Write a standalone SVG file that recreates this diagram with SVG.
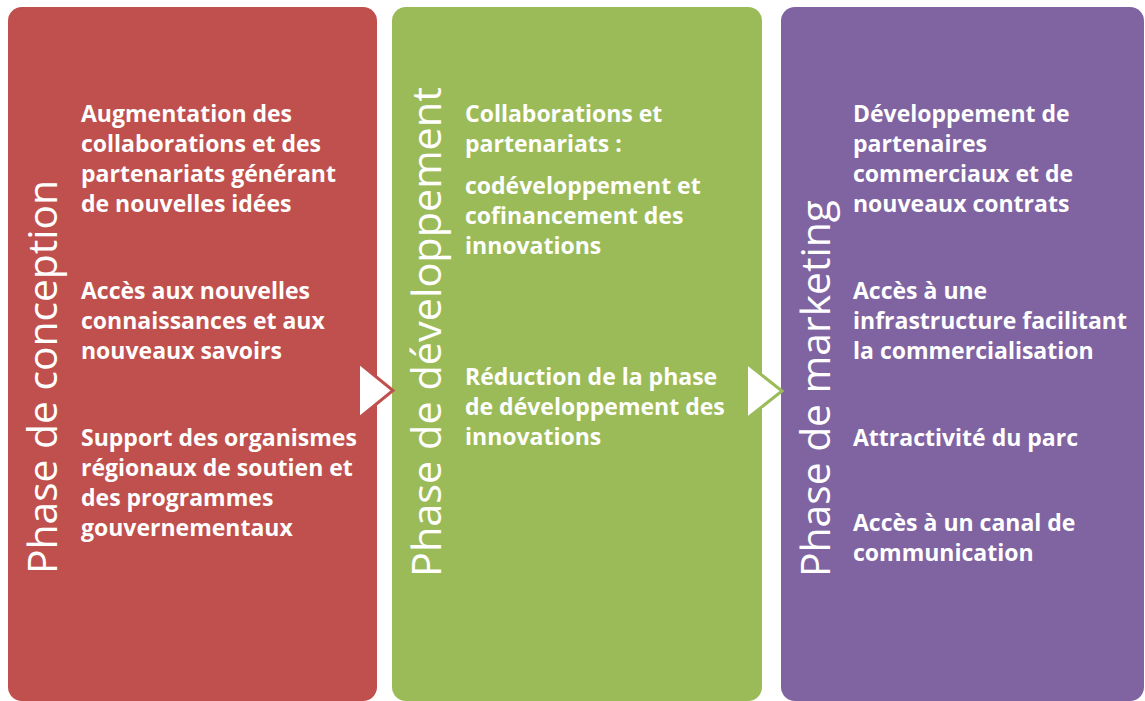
<svg xmlns="http://www.w3.org/2000/svg" width="1145" height="701" viewBox="0 0 1145 701">
<style>
.panel{stroke:none}
.title{font-family:"Open Sans","Liberation Sans",sans-serif;font-weight:400;font-size:41px;fill:#ffffff}
.body{font-family:"Open Sans","Liberation Sans",sans-serif;font-weight:700;font-size:23px;fill:#ffffff}
.chev{fill:#ffffff;stroke-width:3;stroke-linejoin:miter}
</style>
<rect width="1145" height="701" fill="#ffffff"/>
<g id="phase-conception">
<rect class="panel" x="8" y="7" width="369" height="694" rx="14" fill="#C0504D"/>
<text class="title" transform="translate(57,574) rotate(-90)" textLength="394" lengthAdjust="spacingAndGlyphs">Phase de conception</text>
<text class="body" x="81">
<tspan x="81" y="122">Augmentation des</tspan>
<tspan x="81" y="152">collaborations et des</tspan>
<tspan x="81" y="182">partenariats générant</tspan>
<tspan x="81" y="212">de nouvelles idées</tspan>
<tspan x="81" y="299">Accès aux nouvelles</tspan>
<tspan x="81" y="329">connaissances et aux</tspan>
<tspan x="81" y="359">nouveaux savoirs</tspan>
<tspan x="81" y="446">Support des organismes</tspan>
<tspan x="81" y="476">régionaux de soutien et</tspan>
<tspan x="81" y="506">des programmes</tspan>
<tspan x="81" y="536">gouvernementaux</tspan>
</text>
</g>
<g id="phase-developpement">
<rect class="panel" x="392" y="7" width="370" height="694" rx="14" fill="#9BBB59"/>
<text class="title" transform="translate(441,577) rotate(-90)" textLength="490" lengthAdjust="spacingAndGlyphs">Phase de développement</text>
<text class="body">
<tspan x="465" y="122">Collaborations et</tspan>
<tspan x="465" y="152">partenariats :</tspan>
<tspan x="465" y="194">codéveloppement et</tspan>
<tspan x="465" y="224">cofinancement des</tspan>
<tspan x="465" y="254">innovations</tspan>
<tspan x="465" y="385">Réduction de la phase</tspan>
<tspan x="465" y="415">de développement des</tspan>
<tspan x="465" y="445">innovations</tspan>
</text>
</g>
<g id="phase-marketing">
<rect class="panel" x="781" y="7" width="363" height="694" rx="14" fill="#8064A2"/>
<text class="title" transform="translate(830,577) rotate(-90)" textLength="377" lengthAdjust="spacingAndGlyphs">Phase de marketing</text>
<text class="body">
<tspan x="853" y="122">Développement de</tspan>
<tspan x="853" y="152">partenaires</tspan>
<tspan x="853" y="182">commerciaux et de</tspan>
<tspan x="853" y="212">nouveaux contrats</tspan>
<tspan x="853" y="299">Accès à une</tspan>
<tspan x="853" y="329">infrastructure facilitant</tspan>
<tspan x="853" y="359">la commercialisation</tspan>
<tspan x="853" y="446">Attractivité du parc</tspan>
<tspan x="853" y="531">Accès à un canal de</tspan>
<tspan x="853" y="561">communication</tspan>
</text>
</g>
<g id="connectors">
<polygon class="chev" points="358.5,362.5 393,390.5 358.5,418.5" stroke="#C0504D"/>
<polygon class="chev" points="746.5,363 782,391 746.5,419" stroke="#9BBB59"/>
</g>
</svg>
